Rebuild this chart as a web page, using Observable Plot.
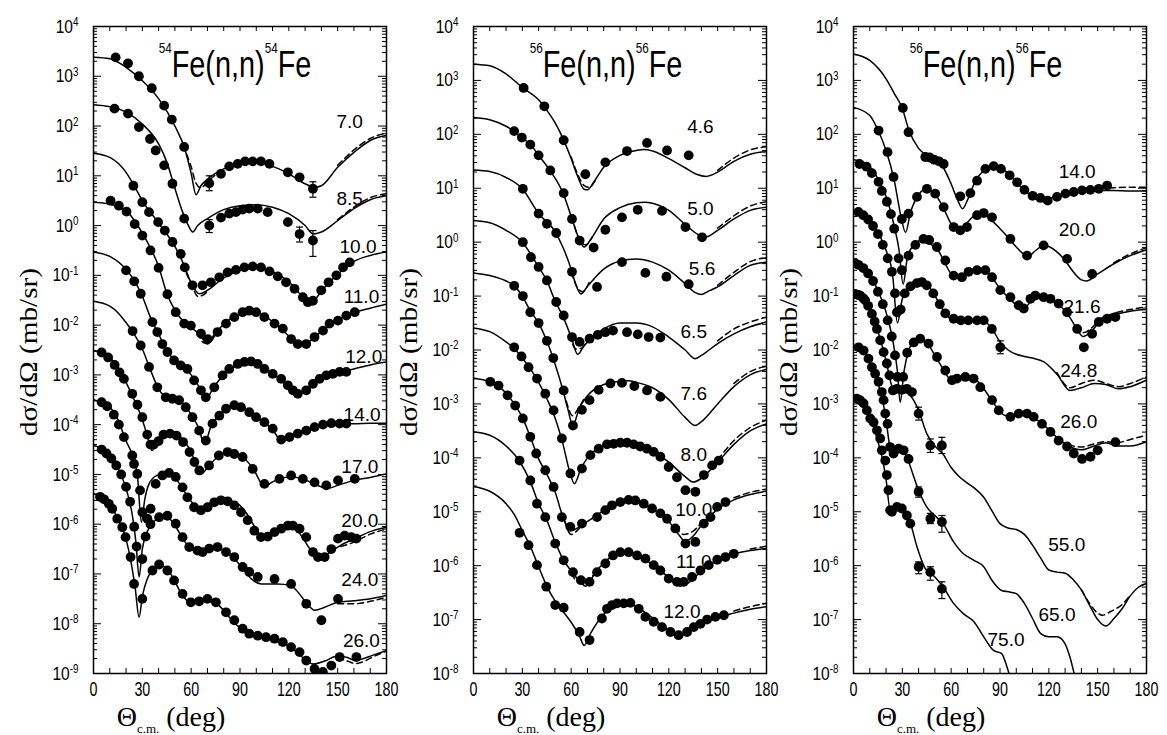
<!DOCTYPE html>
<html>
<head>
<meta charset="utf-8">
<script src="https://cdn.jsdelivr.net/npm/d3@7"></script>
<script src="https://cdn.jsdelivr.net/npm/@observablehq/plot@0.6"></script>
<style>
  html, body { margin: 0; padding: 0; background: #fff; }
  #fig { position: relative; width: 1167px; height: 735px; overflow: hidden; background: #fff; }
</style>
</head>
<body>
<div id="fig"></div>
<script>
// ---------------- DATA (values are log10 of dσ/dΩ in mb/sr, angles in degrees) ----------------
const xTickValues = [0, 30, 60, 90, 120, 150, 180];

// ===== Panel 1: 54Fe(n,n)54Fe =====
const fe54Energies = ["7.0","8.5","10.0","11.0","12.0","14.0","17.0","20.0","24.0","26.0"];
const fe54LabelPosLog = [[157.4,2.08],[157.4,0.54],[162.5,-0.43],[164.6,-1.44],[166,-2.64],[165,-3.80],[163.6,-4.85],[163.6,-5.93],[163.6,-7.12],[164.6,-8.34]];
const fe54TheoryLog = [
  [[0,3.38],[10,3.35],[20,3.18],[30,2.91],[40,2.55],[50,2.00],[56,1.55],[60,1.05],[63,0.62],[66,0.80],[70,0.93],[80,1.14],[90,1.24],[100,1.25],[110,1.19],[120,1.04],[130,0.84],[136,0.77],[140,0.80],[150,1.17],[160,1.47],[170,1.71],[180,1.81]],
  [[0,2.43],[10,2.39],[20,2.28],[30,2.04],[40,1.64],[45,1.28],[50,0.75],[55,0.25],[58,0.02],[61,-0.13],[64,0.0],[70,0.14],[80,0.32],[90,0.40],[100,0.42],[110,0.37],[120,0.24],[130,0.0],[135,-0.17],[140,-0.13],[150,0.10],[160,0.34],[170,0.52],[180,0.60]],
  [[0,1.455],[10,1.37],[20,1.07],[25,0.80],[30,0.50],[40,0.05],[50,-0.42],[55,-0.75],[60,-1.15],[65,-1.37],[70,-1.30],[80,-1.05],[90,-0.90],[97,-0.84],[105,-0.87],[110,-0.93],[120,-1.13],[125,-1.30],[130,-1.50],[133,-1.56],[137,-1.45],[140,-1.32],[150,-0.98],[160,-0.72],[170,-0.60],[180,-0.53]],
  [[0,0.47],[10,0.43],[20,0.30],[30,-0.15],[35,-0.45],[40,-0.82],[45,-1.36],[50,-1.70],[55,-1.92],[60,-2.05],[65,-2.18],[70,-2.38],[74,-2.20],[80,-1.98],[90,-1.77],[96,-1.71],[100,-1.73],[110,-1.93],[120,-2.22],[126,-2.41],[130,-2.38],[135,-2.27],[140,-2.12],[150,-1.90],[160,-1.75],[170,-1.66],[180,-1.58]],
  [[0,-0.53],[10,-0.62],[20,-0.88],[25,-1.10],[30,-1.42],[35,-1.85],[40,-2.18],[45,-2.50],[50,-2.72],[55,-2.83],[60,-3.00],[65,-3.25],[69,-3.48],[74,-3.24],[80,-3.00],[90,-2.77],[97,-2.72],[100,-2.76],[110,-2.97],[120,-3.25],[125,-3.40],[130,-3.33],[140,-3.08],[150,-2.96],[160,-2.88],[170,-2.80],[180,-2.74]],
  [[0,-1.52],[10,-1.62],[15,-1.75],[20,-1.95],[25,-2.18],[30,-2.48],[35,-2.90],[40,-3.28],[45,-3.45],[50,-3.48],[55,-3.58],[60,-3.80],[65,-4.10],[68,-4.40],[72,-4.05],[80,-3.72],[87,-3.60],[95,-3.72],[100,-3.85],[110,-4.10],[115,-4.30],[120,-4.22],[130,-4.10],[140,-4.00],[150,-3.98],[160,-3.98],[170,-3.97],[180,-3.97]],
  [[0,-2.51],[10,-2.65],[15,-2.85],[20,-3.15],[25,-3.50],[30,-3.90],[33,-4.22],[36,-4.52],[39,-4.36],[44,-4.18],[50,-4.18],[55,-4.30],[60,-4.55],[66,-4.99],[71,-4.82],[77,-4.63],[82,-4.55],[87,-4.57],[92,-4.66],[98,-4.88],[105,-5.24],[110,-5.15],[115,-5.08],[121,-5.05],[128,-5.08],[136,-5.20],[144,-5.28],[150,-5.22],[160,-5.12],[170,-5.06],[180,-4.99]],
  [[0,-3.50],[10,-3.65],[15,-3.90],[20,-4.33],[24,-4.62],[27,-5.02],[29.4,-5.96],[31.5,-5.50],[34,-5.20],[39,-5.02],[46,-4.97],[52,-5.15],[57,-5.40],[62,-5.62],[66,-5.72],[72,-5.62],[80,-5.52],[88,-5.58],[94,-5.78],[99,-6.05],[104,-6.27],[110,-6.15],[116,-6.05],[121,-6.03],[127,-6.20],[133,-6.50],[139,-6.70],[145,-6.57],[152,-6.42],[160,-6.30],[170,-6.15],[180,-6.06]],
  [[0,-4.42],[5,-4.48],[10,-4.62],[15,-4.88],[20,-5.28],[24,-5.85],[26,-6.35],[28,-7.06],[30,-6.50],[33,-6.15],[37,-5.95],[44,-5.83],[50,-6.02],[55,-6.30],[60,-6.49],[66,-6.56],[71,-6.50],[75,-6.46],[81,-6.55],[86,-6.68],[91,-6.86],[97,-7.10],[103,-7.20],[113,-7.20],[121,-7.23],[126,-7.38],[130,-7.55],[136,-7.73],[142,-7.67],[150,-7.57],[160,-7.54],[170,-7.50],[180,-7.43]],
  [[0,-5.39],[5,-5.45],[10,-5.60],[15,-5.90],[20,-6.30],[23,-6.75],[25.5,-7.25],[28,-7.87],[30,-7.45],[33,-7.10],[36,-6.93],[40,-6.82],[46,-6.93],[50,-7.15],[54,-7.40],[60,-7.58],[66,-7.53],[71,-7.50],[76,-7.60],[81,-7.77],[86,-7.97],[92,-8.12],[97,-8.20],[101,-8.24],[106,-8.27],[111,-8.30],[116,-8.37],[121,-8.47],[126,-8.60],[131,-8.75],[135,-8.81],[142,-8.75],[150,-8.65],[156,-8.68],[161,-8.74],[166,-8.70],[171,-8.64],[180,-8.54]]
];
const fe54DashedLog = [
  [[55,1.62],[60,1.18],[63,0.85],[66,0.76],[70,0.88],[75,1.02]],
  [[150,1.21],[160,1.52],[170,1.75],[180,1.86]],
  [[150,0.12],[160,0.37],[170,0.56],[180,0.64]],
  [[57,-0.95],[61,-1.25],[64,-1.42],[67,-1.40],[71,-1.28]],
  [[64,-2.15],[68,-2.36],[71,-2.35],[75,-2.18]],
  [[152,-6.45],[160,-6.36],[170,-6.20],[180,-6.10]],
  [[150,-7.60],[160,-7.60],[170,-7.55],[180,-7.47]],
  [[150,-8.68],[156,-8.75],[161,-8.80],[166,-8.76],[172,-8.66],[180,-8.55]]
];
const fe54DataLog = [
  [[13.6,3.38],[21.2,3.26],[27.9,3.0],[35.8,2.76],[43.4,2.41],[48.1,2.13],[55.7,1.58],[71.1,0.85],[78.3,1.04],[83.4,1.19],[88.6,1.24],[93.1,1.29],[97.8,1.29],[102.9,1.29],[108.1,1.24],[119.4,1.07],[126.6,0.97],[134.8,0.74]],
  [[12.9,2.35],[21.2,2.25],[27.9,1.98],[34.7,1.74],[38.2,1.51],[43.4,1.21],[48.5,0.84],[55.7,0.14],[71.1,0.0],[78.3,0.16],[83.4,0.24],[87.5,0.27],[91.6,0.32],[95.7,0.34],[100.9,0.34],[107,0.27],[119.4,0.07],[126.6,-0.17],[134.8,-0.30]],
  [[24.5,0.80],[30,0.47],[34.1,0.27],[39.7,0.07],[43.8,-0.10],[48.5,-0.33],[53.6,-0.57],[56.1,-0.84],[60.8,-1.20],[67,-1.20],[72.1,-1.14],[77.3,-1.04],[82.4,-0.94],[87.5,-0.89],[92.7,-0.84],[97.8,-0.82],[102.9,-0.84],[108.1,-0.92],[113.2,-1.02],[118.3,-1.14],[123.5,-1.27],[128.6,-1.44],[131.7,-1.54],[134.8,-1.51],[139.9,-1.30],[144.4,-1.14],[149.2,-1.0],[153.3,-0.84],[157.4,-0.74]],
  [[10.5,0.50],[15.6,0.40],[20.3,0.28],[25.3,0.03],[30,-0.20],[35,-0.50],[40,-0.85],[45.4,-1.38],[50.5,-1.74],[55.7,-1.97],[59.8,-2.01],[66,-2.17],[70.1,-2.28],[76.2,-2.14],[81.4,-1.97],[86.5,-1.84],[91.6,-1.74],[95.7,-1.71],[99.9,-1.74],[105,-1.84],[111.2,-1.97],[116.3,-2.07],[121.4,-2.28],[125.5,-2.38],[130.7,-2.38],[135.8,-2.24],[141,-2.11],[145,-1.97],[150.2,-1.91],[155.3,-1.81],[160.5,-1.74]],
  [[20,-0.90],[25,-1.12],[29,-1.37],[36.2,-1.94],[39.2,-2.14],[42.3,-2.38],[45.4,-2.54],[49.5,-2.71],[53.6,-2.81],[57.7,-2.88],[61.8,-3.11],[66,-3.31],[69,-3.45],[74.2,-3.25],[79.3,-3.01],[83.4,-2.88],[88.6,-2.78],[92.7,-2.74],[96.8,-2.73],[100.9,-2.78],[105,-2.88],[110.1,-2.98],[115.3,-3.08],[119.4,-3.21],[122.5,-3.31],[125.5,-3.38],[130.7,-3.31],[134.8,-3.18],[138.9,-3.08],[143,-3.01],[147.1,-2.98],[151.2,-2.94],[155.3,-2.94]],
  [[24,-2.12],[29,-2.41],[34.1,-2.84],[39.2,-3.25],[44.4,-3.45],[48.5,-3.48],[52.6,-3.51],[56.7,-3.65],[60.8,-3.85],[64.9,-4.12],[69,-4.32],[73.1,-3.98],[77.3,-3.82],[81.4,-3.68],[86.5,-3.61],[90.6,-3.65],[95.7,-3.75],[99.9,-3.85],[105,-3.95],[110.1,-4.08],[115.3,-4.30],[120.4,-4.25],[125.5,-4.18],[130.7,-4.12],[135.8,-4.05],[141,-4.00],[146.1,-3.97],[151.2,-3.98],[155.3,-3.98]],
  [[5,-2.55],[9,-2.65],[13,-2.80],[16,-2.95],[18.7,-3.08],[23.8,-3.38],[27,-3.60],[30,-3.85],[33,-4.20],[35,-4.40],[37,-4.40],[40,-4.33],[43,-4.20],[47,-4.18],[51,-4.22],[55,-4.35],[59,-4.55],[62,-4.75],[65,-4.92],[71,-4.82],[77,-4.62],[82.4,-4.55],[86.5,-4.59],[91.6,-4.65],[97.8,-4.89],[105,-5.19],[114.2,-5.09],[121.4,-5.02],[128.6,-5.09],[135.8,-5.16],[143,-5.22],[150.2,-5.12],[160.5,-5.09]],
  [[5,-3.55],[8.4,-3.63],[12.5,-3.80],[15.6,-4.0],[18.7,-4.25],[23.8,-4.62],[24.9,-4.79],[26.9,-4.99],[28.6,-5.32],[30,-5.76],[33.1,-5.89],[35.1,-5.69],[38.2,-5.19],[42.3,-5.02],[46.4,-4.97],[50.5,-5.05],[54.7,-5.26],[57.7,-5.46],[61.8,-5.66],[66,-5.72],[70.1,-5.66],[74.2,-5.56],[78.3,-5.52],[82.4,-5.54],[86.5,-5.62],[90.6,-5.76],[94.7,-5.92],[98.8,-6.13],[102.9,-6.26],[107,-6.25],[111.2,-6.16],[115.3,-6.09],[119.4,-6.03],[122.5,-6.03],[126.6,-6.09],[130.7,-6.26],[134.8,-6.56],[137.9,-6.66],[142,-6.66],[146.1,-6.50],[150.2,-6.29],[154.3,-6.23],[158.4,-6.26],[161.5,-6.29]],
  [[5,-4.50],[8,-4.58],[11,-4.68],[14,-4.82],[17,-5.00],[20,-5.25],[22.5,-5.55],[25,-6.05],[26.5,-6.45],[30,-6.70],[32,-6.25],[35,-6.0],[40.3,-5.86],[45.4,-5.83],[50.5,-5.99],[54.7,-6.26],[58.8,-6.46],[63.9,-6.53],[67,-6.56],[71.1,-6.49],[76.2,-6.46],[81.4,-6.56],[86.5,-6.66],[91.6,-6.86],[95.7,-6.96],[100.9,-7.06],[111.2,-7.10],[121.4,-7.20],[130.7,-7.60],[140,-7.93],[150.2,-7.50]],
  [[4,-5.45],[6.5,-5.50],[9.4,-5.59],[11.5,-5.69],[14.6,-5.89],[17.7,-6.06],[19.7,-6.26],[22.8,-6.66],[24.9,-7.20],[30,-7.50],[36.2,-6.93],[40.3,-6.81],[45.4,-6.93],[49.5,-7.13],[54.7,-7.40],[59.8,-7.57],[64.9,-7.55],[70,-7.50],[75.2,-7.57],[81.4,-7.77],[86.5,-7.93],[91.6,-8.10],[95.7,-8.20],[100.9,-8.24],[106,-8.27],[111.2,-8.30],[116.3,-8.37],[121.4,-8.47],[126.6,-8.57],[130.7,-8.74],[135.8,-8.91],[140.9,-8.97],[146.1,-8.84],[151.2,-8.67],[161.5,-8.67]]
];
const fe54ErrorsLog = [[71.1,1.0,0.70],[134.8,0.88,0.57],[71.1,0.12,-0.14],[126.6,-0.03,-0.33],[134.8,-0.10,-0.62]];

// ===== Panel 2: 56Fe(n,n)56Fe, low energies =====
const fe56aEnergies = ["4.6","5.0","5.6","6.5","7.6","8.0","10.0","11.0","12.0"];
const fe56aLabelPosLog = [[139.4,2.13],[139.4,0.62],[140.4,-0.49],[135.3,-1.67],[135.3,-2.81],[135.3,-3.95],[135.3,-4.97],[135.3,-5.93],[128.1,-6.86]];
const fe56aTheoryLog = [
  [[0,3.30],[10,3.27],[20,3.12],[30,2.87],[40,2.64],[45,2.45],[50,2.22],[55,1.92],[60,1.55],[64,1.22],[68,0.98],[70,0.97],[74,1.12],[80,1.39],[90,1.61],[100,1.70],[105,1.72],[110,1.69],[120,1.55],[130,1.38],[137,1.26],[143,1.22],[150,1.30],[160,1.50],[170,1.63],[180,1.68]],
  [[0,2.31],[10,2.27],[20,2.15],[25,2.06],[30,1.93],[35,1.81],[40,1.61],[47,1.33],[55,0.91],[60,0.48],[65,0.05],[68,-0.09],[72,0.05],[80,0.43],[90,0.64],[100,0.73],[105,0.74],[110,0.72],[120,0.59],[130,0.33],[138,0.14],[142,0.09],[150,0.22],[160,0.43],[170,0.59],[180,0.65]],
  [[0,1.34],[10,1.31],[20,1.20],[30,0.99],[40,0.53],[50,0.20],[55,-0.10],[60,-0.50],[63,-0.80],[66,-0.96],[70,-0.82],[80,-0.50],[90,-0.35],[100,-0.31],[110,-0.37],[120,-0.52],[130,-0.77],[136,-0.93],[140,-0.97],[145,-0.90],[150,-0.83],[160,-0.62],[170,-0.43],[180,-0.37]],
  [[0,0.40],[10,0.36],[20,0.22],[30,0.0],[40,-0.46],[45,-0.71],[50,-1.08],[55,-1.38],[60,-1.76],[64,-2.08],[68,-1.92],[75,-1.72],[80,-1.61],[90,-1.50],[100,-1.50],[110,-1.57],[120,-1.76],[130,-2.0],[136,-2.16],[140,-2.10],[150,-1.88],[160,-1.70],[170,-1.57],[180,-1.48]],
  [[0,-0.57],[10,-0.62],[20,-0.72],[25,-0.81],[30,-1.0],[35,-1.28],[40,-1.50],[45,-1.83],[50,-2.25],[55,-2.75],[58,-3.10],[61,-3.40],[65,-3.08],[70,-2.85],[80,-2.64],[90,-2.58],[95,-2.57],[100,-2.60],[110,-2.70],[120,-2.92],[130,-3.25],[136,-3.40],[140,-3.33],[150,-3.0],[160,-2.68],[170,-2.46],[180,-2.36]],
  [[0,-1.59],[10,-1.66],[20,-1.85],[25,-1.97],[30,-2.15],[35,-2.35],[40,-2.60],[45,-2.90],[50,-3.25],[55,-3.75],[59,-4.25],[62,-4.48],[66,-4.20],[70,-4.00],[80,-3.78],[90,-3.71],[100,-3.75],[110,-3.88],[120,-4.08],[130,-4.35],[135,-4.45],[140,-4.38],[150,-4.08],[160,-3.75],[170,-3.50],[180,-3.37]],
  [[0,-2.53],[10,-2.59],[20,-2.80],[25,-3.0],[30,-3.25],[35,-3.62],[40,-4.02],[45,-4.30],[50,-4.62],[55,-5.10],[60,-5.35],[65,-5.28],[70,-5.18],[80,-4.98],[90,-4.83],[97,-4.78],[100,-4.80],[110,-4.95],[120,-5.18],[126,-5.42],[130,-5.55],[135,-5.45],[140,-5.25],[150,-4.95],[160,-4.78],[170,-4.68],[180,-4.62]],
  [[0,-3.52],[10,-3.58],[20,-3.78],[28,-4.05],[35,-4.45],[40,-4.85],[45,-5.15],[50,-5.55],[55,-5.88],[60,-6.10],[65,-6.28],[69,-6.38],[75,-6.12],[80,-5.95],[90,-5.76],[95,-5.74],[100,-5.80],[110,-5.98],[120,-6.22],[127,-6.38],[132,-6.32],[140,-6.10],[150,-5.90],[160,-5.78],[170,-5.72],[180,-5.68]],
  [[0,-4.53],[10,-4.62],[20,-4.85],[25,-5.05],[30,-5.35],[35,-5.65],[40,-6.02],[45,-6.38],[50,-6.65],[55,-6.85],[60,-7.05],[65,-7.30],[68,-7.48],[72,-7.25],[80,-6.90],[85,-6.78],[90,-6.73],[97,-6.72],[100,-6.76],[110,-6.97],[120,-7.20],[126,-7.30],[131,-7.25],[140,-7.08],[150,-6.96],[160,-6.88],[170,-6.81],[180,-6.76]]
];
const fe56aDashedLog = [
  [[60,1.58],[64,1.26],[68,1.05],[71,1.02],[75,1.15]],
  [[150,1.33],[160,1.56],[170,1.71],[180,1.77]],
  [[62,0.30],[66,0.0],[69,-0.05],[73,0.10]],
  [[150,0.26],[160,0.49],[170,0.67],[180,0.75]],
  [[60,-0.55],[64,-0.85],[67,-0.92],[71,-0.75]],
  [[150,-0.80],[160,-0.56],[170,-0.36],[180,-0.29]],
  [[59,-1.72],[63,-1.98],[66,-1.97],[70,-1.82]],
  [[150,-1.83],[160,-1.61],[170,-1.48],[180,-1.39]],
  [[57,-2.95],[61,-3.22],[64,-3.10],[68,-2.90]],
  [[160,-2.62],[170,-2.40],[180,-2.30]],
  [[150,-4.04],[160,-3.68],[170,-3.44],[180,-3.30]],
  [[56,-5.18],[60,-5.42],[64,-5.34],[68,-5.20]],
  [[124,-5.28],[129,-5.42],[134,-5.38],[140,-5.20]],
  [[160,-4.74],[170,-4.64],[180,-4.58]],
  [[60,-6.15],[65,-6.32],[69,-6.34],[74,-6.15]],
  [[170,-5.69],[180,-5.64]],
  [[160,-6.84],[170,-6.76],[180,-6.70]]
];
const fe56aDataLog = [
  [[30.8,2.86],[43.5,2.52],[55.4,1.89],[68.7,1.26],[81,1.48],[94.3,1.69],[106.6,1.84],[118.9,1.70],[132.2,1.61]],
  [[25,2.06],[29.7,1.94],[34.9,1.81],[40,1.61],[47.2,1.33],[55.4,0.91],[60.5,0.43],[65.2,0.03],[73.8,-0.10],[81,0.23],[91.2,0.46],[100.9,0.60],[115.8,0.58],[130.2,0.28],[140.4,0.09]],
  [[30.3,0.99],[40,0.53],[45.1,0.34],[50.8,0.17],[60.5,-0.55],[75.9,-0.83],[91.2,-0.37],[105.6,-0.57],[118.5,-0.64],[132.2,-0.78]],
  [[30.3,0.0],[35.3,-0.28],[40,-0.46],[45.1,-0.71],[50.8,-1.11],[55.4,-1.36],[60.5,-1.76],[65.2,-1.85],[71.3,-1.79],[76.3,-1.72],[81,-1.67],[85.7,-1.64],[94.3,-1.67],[100.9,-1.71],[107.6,-1.76],[114.8,-1.77]],
  [[25,-0.81],[30.3,-1.0],[34.9,-1.30],[40,-1.50],[45.1,-1.83],[49,-2.15],[55.4,-2.75],[61.1,-3.40],[66.6,-3.11],[71.3,-2.93],[76.9,-2.74],[84.1,-2.62],[91.2,-2.61],[98.8,-2.67],[106.6,-2.75],[114.8,-2.87]],
  [[25,-1.95],[29.5,-2.12],[33.8,-2.32],[39,-2.53],[44.1,-2.81],[49.2,-3.12],[54.3,-3.64],[59.5,-4.29],[66.6,-4.20],[71.8,-3.95],[76.9,-3.83],[82,-3.75],[86.1,-3.74],[90.2,-3.72],[94.3,-3.72],[98.4,-3.75],[102.5,-3.79],[106.6,-3.83],[110.7,-3.89],[114.8,-3.98],[119.9,-4.17],[125,-4.36],[130.2,-4.60],[136.3,-4.63],[141.5,-4.32],[146.6,-4.14],[150.7,-4.05]],
  [[10.3,-2.59],[15.4,-2.66],[20.9,-2.84],[25.6,-3.03],[30.3,-3.27],[34.9,-3.61],[38.5,-3.92],[44.1,-4.23],[49.2,-4.54],[54.3,-5.10],[59.5,-5.28],[66.6,-5.22],[75.9,-5.10],[81,-4.97],[85.1,-4.88],[90.2,-4.82],[95.3,-4.78],[99.4,-4.79],[104.6,-4.85],[109.7,-4.94],[114.8,-5.03],[118.9,-5.13],[124,-5.31],[130.2,-5.59],[136.3,-5.56],[141.5,-5.22],[145.6,-5.10],[149.7,-4.91],[154.8,-4.82]],
  [[28.3,-4.05],[34.9,-4.42],[39,-4.85],[44.1,-5.10],[50.2,-5.59],[55.4,-5.90],[61.1,-6.12],[66,-6.27],[71.3,-6.30],[75.9,-6.12],[81,-5.96],[85.7,-5.81],[90.2,-5.75],[95.3,-5.75],[100.5,-5.81],[105.6,-5.87],[110.7,-5.99],[114.8,-6.09],[119.9,-6.24],[125,-6.30],[129.2,-6.30],[134.3,-6.21],[139.4,-6.09],[144.5,-5.99],[149.7,-5.89],[154.8,-5.84],[159.9,-5.78]],
  [[28.3,-5.39],[33.8,-5.62],[39,-5.99],[44.7,-6.39],[50.2,-6.73],[55.4,-6.78],[65.2,-7.23],[71.3,-7.38],[78.9,-6.98],[82,-6.80],[85.1,-6.73],[88.2,-6.70],[92.3,-6.70],[96.4,-6.69],[101.5,-6.80],[105.6,-6.95],[110.7,-7.04],[115.8,-7.14],[121,-7.23],[126,-7.29],[131.2,-7.23],[135.3,-7.14],[139.4,-7.08],[143.5,-7.00],[148.6,-6.95],[153.8,-6.92]]
];
const fe56aErrorsLog = [];

// ===== Panel 3: 56Fe(n,n)56Fe, higher energies =====
const fe56bEnergies = ["14.0","20.0","21.6","24.8","26.0","55.0","65.0","75.0"];
const fe56bLabelPosLog = [[137.4,1.30],[137.4,0.22],[140.4,-1.20],[138.4,-2.38],[138.4,-3.34],[131,-5.62],[125,-6.92],[93.7,-7.38]];
const fe56bTheoryLog = [
  [[0,3.49],[10,3.37],[20,3.03],[25,2.76],[30,2.48],[34,2.08],[40,1.74],[45,1.61],[50,1.52],[55,1.39],[60,1.08],[64,0.78],[67,0.62],[70,0.78],[75,1.14],[80,1.33],[85,1.42],[90,1.39],[95,1.27],[100,1.11],[105,0.96],[110,0.84],[115,0.77],[120,0.80],[125,0.87],[130,0.90],[140,0.93],[150,0.96],[160,0.96],[170,0.95],[180,0.95]],
  [[0,2.50],[10,2.35],[15,2.08],[20,1.70],[25,1.15],[29,0.50],[32,0.18],[35,0.55],[40,0.88],[45,0.99],[50,0.90],[55,0.65],[60,0.34],[65,0.23],[70,0.37],[75,0.50],[80,0.50],[85,0.40],[90,0.25],[95,0.09],[100,-0.09],[105,-0.23],[108,-0.25],[112,-0.15],[117,-0.06],[120,-0.08],[125,-0.18],[130,-0.34],[135,-0.55],[140,-0.70],[143,-0.72],[150,-0.59],[160,-0.40],[170,-0.25],[180,-0.14]],
  [[0,1.53],[5,1.50],[10,1.40],[15,1.18],[20,0.85],[25,0.30],[28,-0.15],[30.5,-0.78],[33,-0.30],[37,-0.05],[43,0.05],[48,-0.05],[52,-0.15],[56,-0.38],[61,-0.62],[66,-0.66],[71,-0.57],[78,-0.52],[83,-0.58],[90,-0.86],[97,-1.08],[104,-1.25],[109,-1.10],[114,-1.02],[120,-1.05],[127,-1.18],[133,-1.40],[137,-1.60],[141,-1.75],[146,-1.66],[152,-1.45],[160,-1.35],[170,-1.28],[180,-1.25]],
  [[0,0.58],[5,0.52],[10,0.40],[15,0.18],[20,-0.15],[24,-0.60],[27,-1.50],[30,-1.05],[34,-0.85],[38,-0.76],[42,-0.74],[47,-0.85],[52,-1.10],[57,-1.35],[61,-1.45],[66,-1.50],[70,-1.45],[75,-1.44],[80,-1.46],[85,-1.60],[90,-1.85],[95,-2.00],[100,-2.08],[105,-2.12],[110,-2.15],[117,-2.22],[125,-2.45],[133,-2.75],[140,-2.70],[148,-2.62],[155,-2.64],[163,-2.72],[170,-2.68],[180,-2.56]],
  [[0,-0.39],[5,-0.45],[10,-0.60],[15,-0.90],[20,-1.30],[24,-1.80],[27,-2.40],[28.7,-2.97],[31,-2.40],[34,-2.00],[37,-1.83],[41,-1.78],[45,-1.85],[50,-2.10],[55,-2.35],[60,-2.55],[65,-2.55],[70,-2.50],[75,-2.55],[80,-2.72],[86,-2.98],[92,-3.20],[97,-3.24],[102,-3.20],[107,-3.20],[112,-3.28],[118,-3.42],[125,-3.62],[132,-3.78],[140,-3.85],[148,-3.78],[155,-3.72],[162,-3.78],[170,-3.78],[180,-3.70]],
  [[0,-0.96],[5,-1.02],[10,-1.25],[15,-1.65],[20,-2.20],[24,-2.70],[27,-2.76],[32,-2.78],[35,-2.85],[40,-3.12],[45,-3.55],[50,-3.78],[55,-3.93],[60,-4.18],[65,-4.35],[70,-4.47],[75,-4.58],[80,-4.73],[85,-4.98],[90,-5.22],[95,-5.30],[100,-5.33],[105,-5.42],[110,-5.62],[115,-5.86],[120,-6.08],[125,-6.12],[130,-6.14],[135,-6.26],[140,-6.45],[145,-6.73],[150,-7.00],[155,-7.12],[160,-6.98],[165,-6.80],[170,-6.56],[175,-6.40],[180,-6.33]],
  [[0,-1.91],[5,-1.97],[10,-2.22],[15,-2.62],[18,-2.95],[20,-3.30],[22.5,-3.80],[25,-3.90],[30,-3.88],[33,-4.00],[35,-4.17],[40,-4.60],[45,-4.91],[51,-5.10],[55,-5.22],[61.5,-5.56],[67.5,-5.78],[74,-5.90],[80,-6.02],[85,-6.27],[91,-6.46],[96,-6.49],[100,-6.52],[105,-6.70],[110,-6.98],[115,-7.26],[120,-7.32],[125,-7.32],[130,-7.45],[133,-7.70],[136,-8.05],[140,-8.45]],
  [[0,-2.87],[5,-2.93],[10,-3.20],[15,-3.70],[18,-4.05],[20,-4.40],[22.5,-4.95],[27,-4.95],[31,-5.00],[35,-5.22],[39,-5.65],[44,-6.05],[50,-6.21],[55,-6.39],[61.5,-6.70],[67.5,-6.89],[74,-7.04],[80,-7.32],[86,-7.57],[91,-7.63],[94,-7.85],[97,-8.15],[100,-8.45]]
];
const fe56bDashedLog = [
  [[145,0.95],[150,0.98],[160,1.01],[170,1.02],[180,1.02]],
  [[160,-0.38],[170,-0.22],[180,-0.10]],
  [[137,-1.55],[141,-1.68],[146,-1.60],[152,-1.42],[160,-1.32],[170,-1.25],[180,-1.20]],
  [[125,-2.42],[133,-2.70],[140,-2.62],[148,-2.56],[155,-2.62],[163,-2.68],[170,-2.62],[180,-2.50]],
  [[132,-3.76],[140,-3.80],[148,-3.74],[155,-3.70],[162,-3.72],[170,-3.66],[180,-3.58]],
  [[140,-6.45],[145,-6.70],[150,-6.88],[153,-6.92],[158,-6.85],[165,-6.72],[170,-6.55]]
];
const fe56bDataLog = [
  [[30.3,2.49],[33.8,2.04],[44.1,1.58],[46.8,1.57],[49.6,1.53],[52.5,1.50],[55.4,1.45],[65.6,0.85],[71.8,0.91],[75.9,1.14],[81,1.36],[86.1,1.41],[90.6,1.36],[95.9,1.24],[100.5,1.11],[105,0.97],[110,0.86],[114.8,0.82],[119.3,0.77],[125,0.84],[130.2,0.90],[135.3,0.93],[140.4,0.96],[145.5,0.97],[150.7,0.99],[155.8,1.05]],
  [[15.4,2.07],[20.9,1.67],[24.6,1.21],[29.7,0.43],[33.8,0.53],[39,0.84],[45.1,0.99],[50.2,0.90],[55.4,0.65],[61.5,0.28],[65.6,0.22],[69.7,0.28],[75.9,0.50],[80,0.54],[85.1,0.46],[96.4,0.06],[106.6,-0.25],[116.8,-0.06],[131.2,-0.31],[146.6,-0.59]],
  [[3.7,1.45],[8,1.40],[11.3,1.28],[15.4,1.12],[17.4,0.95],[20.5,0.75],[23,0.52],[25,0.25],[27.7,-0.30],[29.7,-0.52],[33.8,-0.25],[38,-0.05],[43,0.06],[46.5,0.04],[51.2,-0.09],[56.4,-0.34],[61.5,-0.62],[66.6,-0.65],[70.7,-0.55],[75.9,-0.52],[81,-0.52],[85.1,-0.65],[90.2,-0.89],[96.4,-1.02],[101.5,-1.17],[104.6,-1.23],[108.7,-1.05],[111.7,-0.99],[116.8,-1.02],[121,-1.05],[126,-1.14],[131.2,-1.30],[137.4,-1.61],[141.5,-1.95],[146.6,-1.70],[150.7,-1.48],[155.8,-1.42],[160.9,-1.39]],
  [[3,0.56],[6,0.50],[9,0.42],[12,0.30],[15,0.15],[18,-0.05],[21,-0.30],[23.6,-0.55],[25.5,-0.95],[26.7,-1.30],[29,-1.25],[31.5,-0.95],[35,-0.82],[38.9,-0.76],[42,-0.74],[45,-0.80],[49,-0.95],[53,-1.15],[56.4,-1.32],[61.5,-1.42],[66,-1.45],[70.5,-1.45],[75.9,-1.45],[80,-1.45],[85,-1.61],[90.2,-1.95]],
  [[1,-0.39],[3,-0.42],[6,-0.48],[9,-0.58],[12,-0.72],[15,-0.92],[18,-1.15],[21,-1.45],[23.5,-1.75],[25.5,-2.10],[27,-2.50],[30.5,-2.50],[33,-2.05],[37,-1.86],[41,-1.79],[46.1,-1.88],[51.3,-2.13],[56.4,-2.38],[60.5,-2.56],[63.6,-2.53],[68.7,-2.50],[73.8,-2.53],[77.9,-2.69],[85.1,-2.93],[89.2,-3.12],[96.4,-3.24],[101.5,-3.18],[106.6,-3.18],[110.7,-3.24],[115.8,-3.37],[121,-3.52],[126,-3.68],[131.2,-3.79],[135.3,-3.92],[140.4,-4.02],[145.6,-3.98],[150,-3.86],[160.9,-3.71]],
  [[1,-0.96],[3,-0.98],[4.1,-0.99],[6,-1.04],[7.2,-1.08],[9,-1.18],[11.3,-1.33],[13,-1.47],[14.4,-1.61],[16.4,-1.82],[18.5,-2.04],[20.5,-2.25],[22.1,-2.47],[24.2,-2.75],[26.7,-2.72],[29.7,-2.74],[32.8,-2.72],[35.9,-2.78],[40,-3.18],[47.2,-3.77],[54.3,-3.77]],
  [[3.1,-1.95],[6.2,-2.01],[9.2,-2.16],[11.3,-2.32],[13.3,-2.44],[15.4,-2.59],[17.4,-2.78],[18.5,-2.93],[19.5,-3.18],[20.9,-3.37],[22.5,-3.80],[24.6,-3.92],[27.7,-3.83],[30.8,-3.86],[33.8,-4.02],[40,-4.63],[47.2,-5.13],[54.3,-5.19]],
  [[2,-2.90],[4.1,-2.93],[6.2,-2.99],[8.2,-3.12],[10.3,-3.27],[12.3,-3.34],[14.4,-3.49],[16.4,-3.64],[17.4,-3.86],[19.5,-4.05],[20.5,-4.32],[21.5,-4.60],[22.5,-4.97],[23.6,-5.00],[26.7,-4.91],[29.7,-4.94],[32.8,-5.07],[34.9,-5.22],[40,-6.02],[47.2,-6.12],[54.3,-6.43]]
];
const fe56bErrorsLog = [[90.2,-1.83,-2.07],[40,-3.06,-3.30],[47.2,-3.65,-3.90],[54.3,-3.62,-3.92],[40,-4.54,-4.73],[47.2,-5.03,-5.22],[54.3,-5.07,-5.38],[40,-5.93,-6.15],[47.2,-6.02,-6.27],[54.3,-6.30,-6.61]];

// ---------------- LAYOUT / STYLE ----------------
const SANS = "'Liberation Sans', Arial, Helvetica, sans-serif";
const SERIF = "'Liberation Serif', 'Times New Roman', serif";
const L = {W: 400, H: 735, ML: 93, MT: 26, MB: 62, PW: 293};

function squeeze(node, k) {
  let t = node.getAttribute("transform") || "";
  const x = node.getAttribute("x");
  if (x !== null && x !== "" && !isNaN(+x)) { t += ` translate(${+x},0)`; node.setAttribute("x", 0); }
  node.setAttribute("transform", `${t} scale(${k},1)`);
}

function buildPanel(cfg) {
  const {W, H, ML, MT, MB, PW} = L;
  const MR = W - ML - PW, PH = H - MT - MB;
  const rows = (series) => series.flatMap((pts, k) => pts.map(([a, e]) => ({a, v: Math.pow(10, e), k})));
  const theory = rows(cfg.theory);
  const dashed = rows(cfg.dashed);
  const data = rows(cfg.data);
  const labels = cfg.labelPos.map(([a, e], i) => ({a, v: Math.pow(10, e), t: cfg.energies[i]}));
  const errs = cfg.errors.map(([a, hi, lo]) => ({a, hi: Math.pow(10, hi), lo: Math.pow(10, lo)}));
  const caps = errs.flatMap(d => [{a: d.a, v: d.hi}, {a: d.a, v: d.lo}]);
  const yMajor = d3.range(cfg.yMinExp, 5).map(e => Math.pow(10, e));
  const yMinor = d3.range(cfg.yMinExp, 4).flatMap(e => d3.range(2, 10).map(m => m * Math.pow(10, e)));
  const xMinor = d3.range(0, 181, 10);
  const capSymbol = {draw(ctx, size) { const r = Math.sqrt(size / Math.PI); ctx.moveTo(-r, 0); ctx.lineTo(r, 0); }};

  const svg = Plot.plot({
    width: W, height: H,
    marginLeft: ML, marginRight: MR, marginTop: MT, marginBottom: MB,
    style: {background: "transparent", fontFamily: SANS, color: "#000", overflow: "visible"},
    x: {domain: [0, 180]},
    y: {type: "log", domain: [Math.pow(10, cfg.yMinExp), 1e4]},
    marks: [
      Plot.line(theory, {x: "a", y: "v", z: "k", curve: "monotone-x", stroke: "#000", strokeWidth: 1.5, clip: true}),
      Plot.line(dashed, {x: "a", y: "v", z: "k", curve: "monotone-x", stroke: "#000", strokeWidth: 1.5, strokeDasharray: "6,4", clip: true}),
      Plot.ruleX(errs, {x: "a", y1: "hi", y2: "lo", stroke: "#000", strokeWidth: 1.2, clip: true}),
      Plot.dot(caps, {x: "a", y: "v", symbol: capSymbol, r: 3.5, stroke: "#000", strokeWidth: 1.2, fill: "none", clip: true}),
      Plot.dot(data, {x: "a", y: "v", r: 4.9, fill: "#000", clip: true}),
      Plot.text(labels, {x: "a", y: "v", text: "t", fontSize: 19, fill: "#000", ariaLabel: "curve-label"}),
      Plot.tickX(xMinor, {x: d => d, insetTop: PH - 5, stroke: "#000"}),
      Plot.tickX(xMinor, {x: d => d, insetBottom: PH - 5, stroke: "#000"}),
      Plot.tickY(yMajor, {y: d => d, insetRight: PW - 8, stroke: "#000"}),
      Plot.tickY(yMajor, {y: d => d, insetLeft: PW - 8, stroke: "#000"}),
      Plot.tickY(yMinor, {y: d => d, insetRight: PW - 4, stroke: "#000"}),
      Plot.tickY(yMinor, {y: d => d, insetLeft: PW - 4, stroke: "#000"}),
      Plot.axisX({ticks: xTickValues, tickSize: 0, tickPadding: 8, fontSize: 21, label: null}),
      Plot.axisY({ticks: yMajor, tickSize: 0, tickPadding: 15, fontSize: 19, label: null,
                  tickFormat: d => "10^" + Math.round(Math.log10(d))}),
      Plot.frame({stroke: "#000", strokeWidth: 1.5})
    ]
  });

  const s = d3.select(svg);
  s.selectAll('g[aria-label="x-axis tick label"] text').each(function () { squeeze(this, 0.68); });
  s.selectAll('g[aria-label="y-axis tick label"] text').each(function () {
    const parts = this.textContent.split("^");
    this.textContent = parts[0];
    d3.select(this).append("tspan").attr("dy", "-0.55em").attr("font-size", 12).text(parts[1]);
    squeeze(this, 0.82);
  });
  s.selectAll('g[aria-label="curve-label"] text').each(function () { squeeze(this, cfg.labelSqueeze); });

  // panel title with superscript mass numbers
  const title = s.append("text")
    .attr("transform", `translate(${ML + cfg.titleDx},77) scale(0.78,1)`)
    .attr("text-anchor", "middle").attr("font-family", SANS).attr("font-size", 37).attr("fill", "#000");
  title.append("tspan").attr("font-size", 15).attr("dy", -24).text(cfg.mass);
  title.append("tspan").attr("dy", 24).text(cfg.element + cfg.reaction);
  title.append("tspan").attr("font-size", 15).attr("dy", -24).text(cfg.mass);
  title.append("tspan").attr("dy", 24).text(cfg.element);

  // y-axis title
  s.append("text")
    .attr("transform", "translate(37,352) rotate(-90)")
    .attr("text-anchor", "middle").attr("font-family", SERIF).attr("font-size", 25)
    .attr("textLength", 168).attr("lengthAdjust", "spacingAndGlyphs").attr("fill", "#000")
    .text(cfg.yTitle);

  // x-axis title with subscript
  const xt = s.append("text").attr("x", ML + 78).attr("y", 726)
    .attr("font-family", SERIF).attr("font-size", 28).attr("fill", "#000");
  xt.append("tspan").text(cfg.xTitle[0]);
  xt.append("tspan").attr("font-size", 13).attr("dy", 7).text(cfg.xTitle[1]);
  xt.append("tspan").attr("dy", -7).text(cfg.xTitle[2]);

  svg.style.position = "absolute";
  svg.style.top = "0px";
  svg.style.left = cfg.left + "px";
  return svg;
}

const yTitle = "dσ/dΩ (mb/sr)";
const xTitle = ["Θ", "c.m.", " (deg)"];
const fig = document.getElementById("fig");
[
  {left: 0, yMinExp: -9, mass: "54", element: "Fe", reaction: "(n,n)", titleDx: 142, labelSqueeze: 0.95,
   energies: fe54Energies, labelPos: fe54LabelPosLog, theory: fe54TheoryLog, dashed: fe54DashedLog, data: fe54DataLog, errors: fe54ErrorsLog},
  {left: 380, yMinExp: -8, mass: "56", element: "Fe", reaction: "(n,n)", titleDx: 133, labelSqueeze: 0.85,
   energies: fe56aEnergies, labelPos: fe56aLabelPosLog, theory: fe56aTheoryLog, dashed: fe56aDashedLog, data: fe56aDataLog, errors: fe56aErrorsLog},
  {left: 760, yMinExp: -8, mass: "56", element: "Fe", reaction: "(n,n)", titleDx: 133, labelSqueeze: 0.85,
   energies: fe56bEnergies, labelPos: fe56bLabelPosLog, theory: fe56bTheoryLog, dashed: fe56bDashedLog, data: fe56bDataLog, errors: fe56bErrorsLog}
].forEach(cfg => fig.appendChild(buildPanel({...cfg, yTitle, xTitle})));
</script>
</body>
</html>
